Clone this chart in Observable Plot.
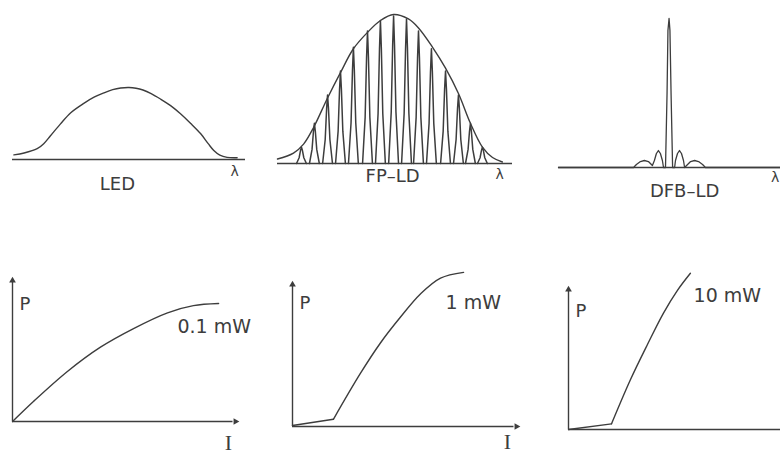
<!DOCTYPE html>
<html><head><meta charset="utf-8">
<script src="https://cdn.jsdelivr.net/npm/d3@7"></script>
<script src="https://cdn.jsdelivr.net/npm/@observablehq/plot@0.6"></script>
<style>
body{margin:0;background:#fff}
#wrap{position:relative;width:780px;height:454px;overflow:hidden;background:#fff}
</style>
</head><body><div id="wrap"></div>
<script>
// ---- data (relative wavelength / current 0-100, relative power 0-1) ----
const spectrumLabels = ["LED", "FP–LD", "DFB–LD"];
const powerLabels = ["0.1 mW", "1 mW", "10 mW"];
const wavelengthSymbol = "λ";
const axisLabels = ["P", "I"];

// LED spectrum
const ledSpecX = [0.6, 5, 10.6, 13.4, 16.3, 20.6, 25, 30.6, 35, 39.2, 43, 46.4, 50, 53, 56, 59.5, 63.5, 68, 72.1, 76.5, 80.7, 84, 86.4, 89, 92.1, 96.4];
const ledSpecY = [0.065, 0.09, 0.15, 0.22, 0.33, 0.495, 0.65, 0.78, 0.865, 0.925, 0.97, 0.993, 1.0, 0.99, 0.965, 0.915, 0.84, 0.745, 0.635, 0.5, 0.36, 0.22, 0.125, 0.06, 0.03, 0.025];

// FP-LD envelope and longitudinal modes
const fpEnvX = [0, 6.8, 11.1, 15.3, 21.3, 26.8, 32.3, 38.3, 43.8, 49.4, 55.7, 60, 66, 71.5, 77, 82.1, 87.2, 91.5, 95.7];
const fpEnvY = [0.03, 0.07, 0.13, 0.24, 0.44, 0.61, 0.77, 0.88, 0.96, 1.0, 0.97, 0.91, 0.78, 0.64, 0.47, 0.27, 0.11, 0.04, 0.01];
const fpModeX = [10.2, 15.7, 21.3, 26.8, 32.3, 38.3, 43.8, 49.4, 54.9, 60.0, 65.5, 71.5, 77.0, 82.1, 87.2];
const fpModeY = [0.11, 0.27, 0.46, 0.62, 0.78, 0.89, 0.96, 0.99, 0.97, 0.89, 0.77, 0.62, 0.46, 0.27, 0.11];

// DFB-LD spectrum (main mode + side lobes)
const dfbX = [0, 33.8, 35.1, 36.9, 38.7, 40.5, 42.3, 43.2, 44.1, 45, 45.9, 46.8, 47.3, 48.2, 48.9, 49.3, 49.8, 50.2, 50.7, 51.4, 52.3, 52.7, 53.6, 54.5, 55.4, 56.3, 56.8, 57.7, 59.5, 61.3, 63.1, 64.9, 66.2, 100];
const dfbY = [0, 0, 0.02, 0.04, 0.047, 0.04, 0.013, 0.047, 0.094, 0.114, 0.094, 0.047, 0, 0, 0.5, 0.92, 1.0, 0.92, 0.5, 0, 0, 0.047, 0.094, 0.114, 0.094, 0.047, 0, 0.013, 0.04, 0.047, 0.04, 0.02, 0, 0];

// P-I curves
const ledPIX = [0, 9.3, 24.4, 39.1, 53.8, 68.9, 80.4, 91.6];
const ledPIY = [0, 0.14, 0.35, 0.52, 0.65, 0.76, 0.81, 0.825];
const fpPIX = [0, 18.1, 30.1, 38.9, 47.8, 56.6, 65.5, 75.7];
const fpPIY = [0.007, 0.05, 0.37, 0.58, 0.76, 0.92, 1.03, 1.07];
const dfbPIX = [0, 20.3, 29.2, 37.3, 44.8, 51.4, 57.5];
const dfbPIY = [0, 0.04, 0.35, 0.6, 0.82, 0.98, 1.10];

// ---- drawing ----
const INK = "#3d3d3d";
const SANS = "DejaVu Sans, sans-serif";
const SERIF = "Liberation Serif, DejaVu Serif, serif";
const wrap = document.getElementById("wrap");

function panel(frame, marks) {
  const [l, r, t, b] = frame;
  const svg = Plot.plot({
    width: 780, height: 454,
    marginLeft: l, marginRight: 780 - r, marginTop: t, marginBottom: 454 - b,
    x: {domain: [0, 100], axis: null},
    y: {domain: [0, 1], axis: null},
    style: {background: "transparent", overflow: "visible", color: INK},
    marks
  });
  svg.style.position = "absolute";
  svg.style.left = "0px";
  svg.style.top = "0px";
  wrap.append(svg);
}
const txt = (s, x, y, o = {}) => Plot.text([s], {x, y, text: d => d, fill: INK, fontFamily: SANS, fontSize: 18, lineAnchor: "middle", ...o});
const curve = (X, Y, o = {}) => Plot.line(Y, {x: X, y: Y, stroke: INK, strokeWidth: 1.4, curve: "catmull-rom", ...o});

// Spectrum panels
panel([12, 245, 87, 159], [
  Plot.ruleY([0], {x1: 0, x2: 100, stroke: INK, strokeWidth: 1.6}),
  curve(ledSpecX, ledSpecY),
  txt(spectrumLabels[0], 45, -0.34),
  txt(wavelengthSymbol, 95.3, -0.16, {fontSize: 14})
]);

const modeShapeDx = [-2.1, -1.0, -0.4, 0, 0.4, 1.0, 2.1];
const modeShapeF = [0, 0.35, 0.8, 1, 0.8, 0.35, 0];
const modeRows = fpModeX.flatMap((c, i) => modeShapeDx.map((dx, j) => ({m: i, x: c + dx, y: fpModeY[i] * modeShapeF[j]})));
panel([277, 512, 14, 163], [
  Plot.ruleY([0], {x1: 0, x2: 100, stroke: INK, strokeWidth: 1.6}),
  Plot.line(modeRows, {x: "x", y: "y", z: "m", stroke: INK, strokeWidth: 1.5}),
  curve(fpEnvX, fpEnvY),
  txt(spectrumLabels[1], 49, -0.087),
  txt(wavelengthSymbol, 94.5, -0.074, {fontSize: 14})
]);

panel([558, 780, 18, 167], [
  Plot.ruleY([0], {x1: 0, x2: 100, stroke: INK, strokeWidth: 1.4}),
  Plot.line(dfbY, {x: dfbX, y: dfbY, stroke: INK, strokeWidth: 1.3}),
  txt(spectrumLabels[2], 56.8, -0.161),
  txt(wavelengthSymbol, 99.5, -0.067, {fontSize: 14, textAnchor: "end"})
]);

// P-I panels
function piPanel(frame, X, Y, label, labelPos, pPos, iPos, xArrow, kink) {
  const marks = [
    Plot.ruleX([0], {y1: 0, y2: 0.98, stroke: INK, strokeWidth: 1.4}),
    Plot.ruleY([0], {x1: 0, x2: xArrow ? 98 : 100, stroke: INK, strokeWidth: 1.4}),
    Plot.dot([0], {x: 0, y: 1, dy: 2, symbol: "triangle2", r: 3.2, fill: INK, stroke: "none"}),
    txt(axisLabels[0], pPos[0], pPos[1], {textAnchor: "start"}),
    txt(label, labelPos[0], labelPos[1], {textAnchor: "start", fontSize: 19})
  ];
  if (xArrow) {
    marks.push(Plot.dot([0], {x: 100, y: 0, dx: -2, symbol: "triangle2", r: 3.2, rotate: 90, fill: INK, stroke: "none"}));
  }
  if (iPos) marks.push(txt(axisLabels[1], iPos[0], iPos[1], {fontFamily: SERIF, fontSize: 22}));
  if (kink) {
    marks.push(Plot.line(Y.slice(0, 2), {x: X.slice(0, 2), y: Y.slice(0, 2), stroke: INK, strokeWidth: 1.4}));
    marks.push(curve(X.slice(1), Y.slice(1)));
  } else {
    marks.push(curve(X, Y));
  }
  panel(frame, marks);
}
piPanel([12, 237, 278, 421], ledPIX, ledPIY, powerLabels[0], [73.3, 0.664], [3.1, 0.82], [96, -0.147], true, false);
piPanel([292, 518, 282, 426], fpPIX, fpPIY, powerLabels[1], [67.7, 0.858], [3.1, 0.854], [95.1, -0.11], true, true);
piPanel([568, 780, 287, 429], dfbPIX, dfbPIY, powerLabels[2], [59, 0.944], [3.3, 0.834], null, false, true);
</script></body></html>
